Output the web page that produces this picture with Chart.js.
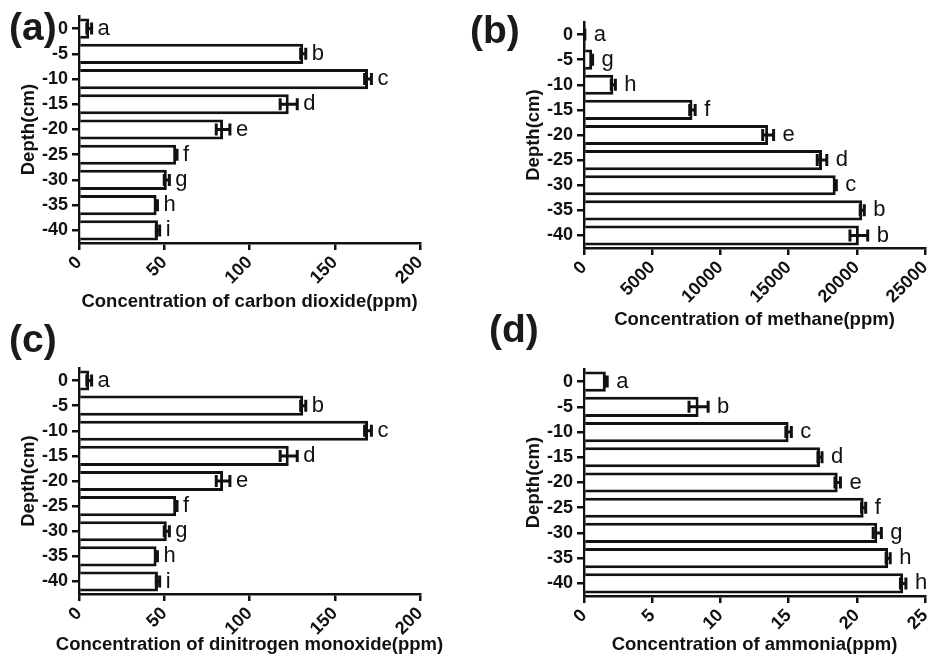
<!DOCTYPE html>
<html>
<head>
<meta charset="utf-8">
<script src="https://cdn.jsdelivr.net/npm/chart.js@4/dist/chart.umd.min.js"></script>
<style>
  body { margin: 0; background: #fff; width: 930px; height: 656px; position: relative; overflow: hidden;
         font-family: "Liberation Sans", Arial, sans-serif; }
  canvas { position: absolute; }
  .lbl { position: absolute; font-weight: bold; font-size: 39px; line-height: 39px; color: #1a1a1a; }
</style>
</head>
<body>
<canvas id="chartA" width="465" height="330" style="left:0;top:0"></canvas>
<canvas id="chartB" width="465" height="330" style="left:465px;top:0"></canvas>
<canvas id="chartC" width="465" height="330" style="left:0;top:326px"></canvas>
<canvas id="chartD" width="465" height="330" style="left:465px;top:326px"></canvas>
<div class="lbl" style="left:9px;top:7px">(a)</div>
<div class="lbl" style="left:470px;top:10px">(b)</div>
<div class="lbl" style="left:9px;top:319px">(c)</div>
<div class="lbl" style="left:489px;top:309px">(d)</div>
<script>
// ---- data ----
const depths = ['0', '-5', '-10', '-15', '-20', '-25', '-30', '-35', '-40'];

const co2        = [6, 131.5, 169.5, 123, 84.5, 57, 51.5, 45.5, 46.3];
const co2Err     = [1.4, 1.5, 2, 5, 4, 0.5, 1.5, 0.5, 1];
const co2Letters = ['a', 'b', 'c', 'd', 'e', 'f', 'g', 'h', 'i'];

const ch4        = [50, 600, 2150, 7950, 13500, 17450, 18450, 20400, 20150];
const ch4Err     = [10, 30, 150, 200, 400, 350, 50, 150, 650];
const ch4Letters = ['a', 'g', 'h', 'f', 'e', 'd', 'c', 'b', 'b'];

const n2o        = [6, 131.5, 169.5, 123, 84.5, 57, 51.5, 45.5, 46.3];
const n2oErr     = [1.4, 1.5, 2, 5, 4, 0.5, 1.5, 0.5, 1];
const n2oLetters = ['a', 'b', 'c', 'd', 'e', 'f', 'g', 'h', 'i'];

const nh3        = [1.6, 8.4, 15.0, 17.3, 18.6, 20.5, 21.5, 22.3, 23.4];
const nh3Err     = [0.1, 0.7, 0.2, 0.15, 0.2, 0.15, 0.3, 0.15, 0.2];
const nh3Letters = ['a', 'b', 'c', 'd', 'e', 'f', 'g', 'h', 'h'];

const FONT = '"Liberation Sans", Arial, sans-serif';
const INK = '#111';

// error bars + significance letters, drawn through the chart scales
const errorBars = {
  id: 'errorBars',
  afterDatasetsDraw(chart, args, opts) {
    const { ctx, scales: { x } } = chart;
    const meta = chart.getDatasetMeta(0);
    ctx.save();
    ctx.strokeStyle = INK;
    ctx.fillStyle = INK;
    ctx.lineWidth = 3;
    ctx.font = '22px ' + FONT;
    ctx.textBaseline = 'middle';
    ctx.textAlign = 'left';
    meta.data.forEach((bar, i) => {
      const v = opts.values[i], e = opts.errors[i];
      const cy = bar.y;
      const x0 = x.getPixelForValue(v - e);
      const x1 = x.getPixelForValue(v + e);
      ctx.beginPath();
      ctx.moveTo(x0, cy); ctx.lineTo(x1, cy);
      ctx.moveTo(x0, cy - 6); ctx.lineTo(x0, cy + 6);
      ctx.moveTo(x1, cy - 6); ctx.lineTo(x1, cy + 6);
      ctx.stroke();
      ctx.fillText(opts.letters[i], x1 + opts.gap, cy);
    });
    // x axis title, centred under the plot, not squeezed to the plot width
    const ca = chart.chartArea;
    ctx.font = 'bold 18.5px ' + FONT;
    ctx.textAlign = 'center';
    ctx.fillText(opts.xTitle, (ca.left + ca.right) / 2, opts.xTitleY);
    ctx.restore();
  }
};

function makeChart(id, o) {
  return new Chart(document.getElementById(id), {
    type: 'bar',
    data: {
      labels: depths,
      datasets: [{
        data: o.values,
        backgroundColor: '#fff',
        borderColor: INK,
        borderWidth: 3,
        barPercentage: 0.8,
        categoryPercentage: 1
      }]
    },
    options: {
      indexAxis: 'y',
      responsive: false,
      animation: false,
      layout: { padding: o.padding },
      plugins: {
        legend: { display: false },
        tooltip: { enabled: false },
        errorBars: { values: o.values, errors: o.errors, letters: o.letters, gap: o.gap,
                     xTitle: o.xTitle, xTitleY: o.xTitleY }
      },
      scales: {
        x: {
          min: 0, max: o.max,
          ticks: { stepSize: o.step, minRotation: 45, maxRotation: 45, padding: 2,
                   callback: v => String(v),
                   color: INK, font: { family: FONT, size: 18, weight: 'bold' } },
          grid: { drawOnChartArea: false, drawTicks: true, tickLength: 7, color: INK, lineWidth: 2.5 },
          border: { color: INK, width: 2.5 },
          afterFit: s => { s.height = o.xHeight; s.paddingLeft = 0; s.paddingRight = 0; }
        },
        y: {
          offset: true,
          ticks: { padding: 4, color: INK, font: { family: FONT, size: 18, weight: 'bold' } },
          grid: { offset: false, drawOnChartArea: false, drawTicks: true, tickLength: 7, color: INK, lineWidth: 2.5 },
          border: { color: INK, width: 2.5 },
          title: { display: true, text: 'Depth(cm)', color: INK, padding: { top: o.yTitlePad, bottom: 0 },
                   font: { family: FONT, size: 18.5, weight: 'bold' } },
          afterFit: s => { s.width = o.yWidth; s.paddingTop = 0; s.paddingBottom = 0; }
        }
      }
    },
    plugins: [errorBars]
  });
}

makeChart('chartA', {
  values: co2, errors: co2Err, letters: co2Letters, gap: 6,
  max: 200, step: 50, xTitle: 'Concentration of carbon dioxide(ppm)', xTitleY: 302,
  padding: { left: 0, right: 45, top: 16, bottom: 0 },
  yWidth: 79, xHeight: 87, yTitlePad: 18
});

makeChart('chartB', {
  values: ch4, errors: ch4Err, letters: ch4Letters, gap: 9,
  max: 25000, step: 5000, xTitle: 'Concentration of methane(ppm)', xTitleY: 320,
  padding: { left: 0, right: 5, top: 22, bottom: 0 },
  yWidth: 119, xHeight: 82, yTitlePad: 58
});

makeChart('chartC', {
  values: n2o, errors: n2oErr, letters: n2oLetters, gap: 6,
  max: 200, step: 50, xTitle: 'Concentration of dinitrogen monoxide(ppm)', xTitleY: 319,
  padding: { left: 0, right: 45, top: 42, bottom: 0 },
  yWidth: 79, xHeight: 62, yTitlePad: 18
});

makeChart('chartD', {
  values: nh3, errors: nh3Err, letters: nh3Letters, gap: 9,
  max: 25, step: 5, xTitle: 'Concentration of ammonia(ppm)', xTitleY: 319,
  padding: { left: 0, right: 5, top: 43, bottom: 0 },
  yWidth: 119, xHeight: 60, yTitlePad: 58
});
</script>
</body>
</html>
